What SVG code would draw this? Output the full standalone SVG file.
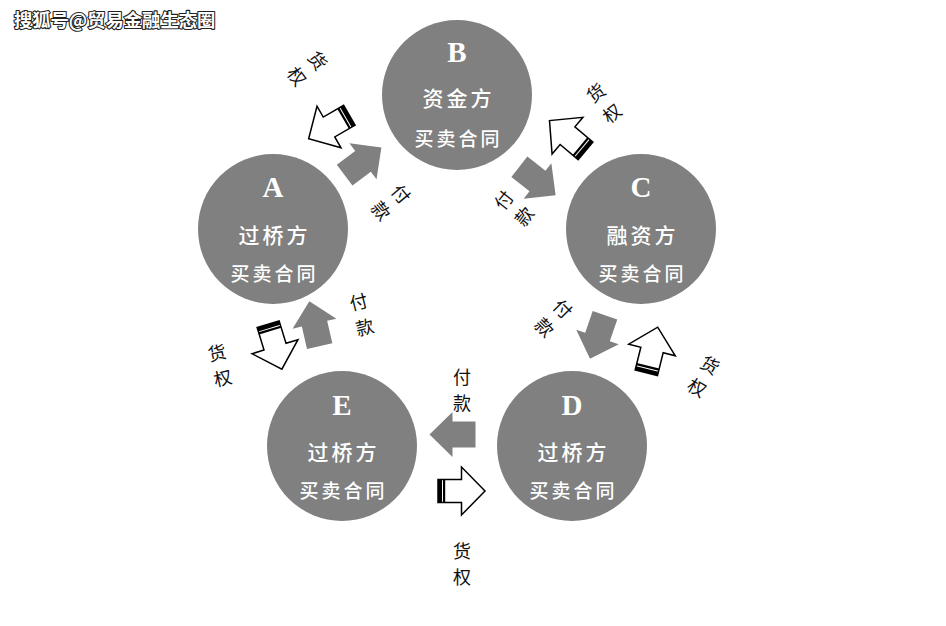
<svg xmlns="http://www.w3.org/2000/svg" xmlns:xlink="http://www.w3.org/1999/xlink" width="946" height="626" viewBox="0 0 946 626">
<style>
.node{fill:#808080}
.letter{font-family:"Liberation Serif",serif;font-weight:bold;font-size:29px;fill:#fff;text-anchor:middle}
.name{font-family:"Noto Sans CJK SC",sans-serif;font-weight:500;font-size:21px;fill:#fff;text-anchor:middle;letter-spacing:3px}
.deal{font-family:"Noto Sans CJK SC",sans-serif;font-weight:500;font-size:19px;fill:#fff;text-anchor:middle;letter-spacing:3px}
.lbl{font-family:"Noto Sans CJK SC",sans-serif;font-size:18px;fill:#111;text-anchor:middle}
.wm{font-family:"Noto Sans CJK SC",sans-serif;font-weight:bold;font-size:18.3px;fill:#fff;stroke:#222;stroke-width:2.2px;paint-order:stroke;stroke-linejoin:round}
</style>
<defs>
<g id="grayArrow">
<polygon points="-23,-13 0,-13 0,-22.5 23,0 0,22.5 0,13 -23,13" fill="#808080"/>
</g>
<g id="whiteArrow">
<polygon points="-23.5,-11.5 0,-11.5 0,-24 23.5,0 0,24 0,11.5 -23.5,11.5" fill="#fff" stroke="#000" stroke-width="1.5" stroke-linejoin="miter"/>
<rect x="-23.5" y="-11.5" width="4" height="23" fill="#000"/>
<rect x="-18.5" y="-11.5" width="2.2" height="23" fill="#000"/>
</g>
</defs>
<rect width="946" height="626" fill="#fff"/>
<text class="wm" x="14" y="26.5">搜狐号@贸易金融生态圈</text>

<g id="node-A">
<circle class="node" cx="273" cy="229" r="75"/>
<text class="letter" x="273" y="197">A</text>
<text class="name" x="274.5" y="243">过桥方</text>
<text class="deal" x="274.5" y="281">买卖合同</text>
</g>
<g id="node-B">
<circle class="node" cx="457" cy="95" r="75"/>
<text class="letter" x="457" y="62">B</text>
<text class="name" x="458.5" y="106">资金方</text>
<text class="deal" x="458.5" y="146">买卖合同</text>
</g>
<g id="node-C">
<circle class="node" cx="641" cy="229" r="75"/>
<text class="letter" x="641" y="197">C</text>
<text class="name" x="642.5" y="243">融资方</text>
<text class="deal" x="642.5" y="281">买卖合同</text>
</g>
<g id="node-D">
<circle class="node" cx="572" cy="446" r="75"/>
<text class="letter" x="572" y="415">D</text>
<text class="name" x="573.5" y="460">过桥方</text>
<text class="deal" x="573.5" y="498">买卖合同</text>
</g>
<g id="node-E">
<circle class="node" cx="342" cy="446" r="75"/>
<text class="letter" x="342" y="415">E</text>
<text class="name" x="343.5" y="460">过桥方</text>
<text class="deal" x="343.5" y="498">买卖合同</text>
</g>

<g id="connectors">
<use xlink:href="#grayArrow" transform="translate(363,161.3) rotate(-37)"/>
<use xlink:href="#whiteArrow" transform="translate(329,127) rotate(150)"/>
<use xlink:href="#whiteArrow" transform="translate(567.5,135.7) rotate(220)"/>
<use xlink:href="#grayArrow" transform="translate(537.5,181) rotate(38)"/>
<use xlink:href="#grayArrow" transform="translate(597.5,337) rotate(109)"/>
<use xlink:href="#whiteArrow" transform="translate(652,350) rotate(-76)"/>
<use xlink:href="#grayArrow" transform="translate(314.5,323.7) rotate(-103)"/>
<use xlink:href="#whiteArrow" transform="translate(275,346.7) rotate(73)"/>
<use xlink:href="#grayArrow" transform="translate(452.5,434.5) rotate(180)"/>
<use xlink:href="#whiteArrow" transform="translate(461.5,491) rotate(0)"/>
</g>

<g id="labels">
<g transform="translate(307,68.7) rotate(53)"><text class="lbl" y="-6.5">货</text><text class="lbl" y="19.5">权</text></g>
<g transform="translate(390.8,202.5) rotate(50)"><text class="lbl" y="-6.5">付</text><text class="lbl" y="19.5">款</text></g>
<g transform="translate(604.2,103.3) rotate(-38)"><text class="lbl" y="-6.5">货</text><text class="lbl" y="19.5">权</text></g>
<g transform="translate(514.2,208.3) rotate(-52)"><text class="lbl" y="-6.5">付</text><text class="lbl" y="19.5">款</text></g>
<g transform="translate(553.3,318.3) rotate(45)"><text class="lbl" y="-6.5">付</text><text class="lbl" y="19.5">款</text></g>
<g transform="translate(703.3,376.7) rotate(30)"><text class="lbl" y="-6.5">货</text><text class="lbl" y="19.5">权</text></g>
<g transform="translate(361.7,315) rotate(-14)"><text class="lbl" y="-6.5">付</text><text class="lbl" y="19.5">款</text></g>
<g transform="translate(220,365.8) rotate(-13)"><text class="lbl" y="-6.5">货</text><text class="lbl" y="19.5">权</text></g>
<g transform="translate(462,390.5)"><text class="lbl" y="-6.5">付</text><text class="lbl" y="19.5">款</text></g>
<g transform="translate(462,564.5)"><text class="lbl" y="-6.5">货</text><text class="lbl" y="19.5">权</text></g>
</g>
</svg>
